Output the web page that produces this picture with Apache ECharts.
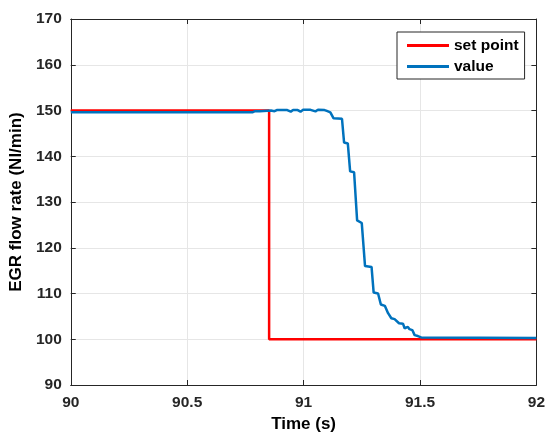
<!DOCTYPE html>
<html>
<head>
<meta charset="utf-8">
<script src="https://cdn.jsdelivr.net/npm/echarts@6/dist/echarts.min.js"></script>
<style>html,body{margin:0;padding:0;background:#fff}#c{width:548px;height:438px}</style>
</head>
<body>
<div id="c"></div>
<script>
// Data
var xTicks = [90, 90.5, 91, 91.5, 92];
var yTicks = [90, 100, 110, 120, 130, 140, 150, 160, 170];

var setTime  = [90, 90.852, 90.852, 92];
var setValue = [150, 150, 100, 100];

var valTime = [90, 90.34, 90.342, 90.346, 90.476, 90.478, 90.482, 90.74, 90.743, 90.748, 90.765, 90.772, 90.78, 90.792, 90.80, 90.812, 90.82,
  90.86, 90.875, 90.885, 90.93, 90.945, 90.955, 90.975, 90.987, 90.998, 91.03, 91.051, 91.062, 91.09, 91.10, 91.115,
  91.129, 91.165, 91.174, 91.190, 91.200, 91.217, 91.230, 91.238, 91.250, 91.264, 91.292, 91.301, 91.320, 91.332, 91.349,
  91.363, 91.377, 91.391, 91.410, 91.427, 91.434, 91.448, 91.455, 91.467, 91.477, 91.491, 91.505, 92];
var valValue = [149.6, 149.6, 149.85, 149.6, 149.6, 149.85, 149.6, 149.6, 149.85, 149.6, 149.6, 149.85, 149.6, 149.85, 149.6, 149.85, 150.0,
  150.0, 149.85, 150.1, 150.1, 149.75, 150.1, 150.1, 149.75, 150.15, 150.15, 149.8, 150.15, 150.1, 149.9, 149.6,
  148.3, 148.2, 143.0, 142.8, 136.7, 136.5, 126.0, 125.6, 125.4, 116.0, 115.8, 110.2, 110.0, 107.6, 107.3,
  105.7, 104.6, 104.4, 103.5, 103.4, 102.4, 102.7, 102.2, 102.0, 100.9, 100.7, 100.4, 100.3];

function pairs(xs, ys) { return xs.map(function (x, i) { return [x, ys[i]]; }); }

var FONT = 'Liberation Sans, Arial, Helvetica, sans-serif';
var INK = '#262626';

var chart = echarts.init(document.getElementById('c'), null, {renderer: 'canvas'});
var common = {
  axisLine: {show: true, lineStyle: {color: INK, width: 1}},
  axisTick: {show: true, inside: true, length: 5, lineStyle: {color: INK}}
};
chart.setOption({
  animation: false,
  backgroundColor: '#fff',
  grid: {left: 68, right: 10, top: 19, bottom: 53, containLabel: false},
  legend: {
    left: 397, top: 32,
    orient: 'vertical',
    padding: [5, 6, 4, 10],
    itemGap: 4,
    itemWidth: 42, itemHeight: 3,
    borderColor: INK, borderWidth: 1, backgroundColor: '#fff',
    textStyle: {fontFamily: FONT, fontWeight: 'bold', fontSize: 15.5, color: '#000', lineHeight: 17},
    data: [{name: 'set point', icon: 'rect'}, {name: 'value', icon: 'rect'}]
  },
  xAxis: [
    Object.assign({
      type: 'value', min: 90, max: 92, interval: 0.5,
      name: 'Time (s)', nameLocation: 'middle', nameGap: 31,
      nameTextStyle: {fontFamily: FONT, fontWeight: 'bold', fontSize: 17, color: '#000'},
      axisLabel: {margin: 10, fontFamily: FONT, fontWeight: 'bold', fontSize: 15.5, color: INK,
        formatter: function (v) { return String(+v.toFixed(1)); }},
      splitLine: {show: true, lineStyle: {color: '#e6e6e6', width: 1}}
    }, common),
    Object.assign({
      type: 'value', min: 90, max: 92, interval: 0.5, position: 'top',
      axisLabel: {show: false}, splitLine: {show: false}
    }, common)
  ],
  yAxis: [
    Object.assign({
      type: 'value', min: 90, max: 170, interval: 10,
      name: 'EGR flow rate (Nl/min)', nameLocation: 'middle', nameGap: 44, nameRotate: 90,
      nameTextStyle: {fontFamily: FONT, fontWeight: 'bold', fontSize: 17, color: '#000'},
      axisLabel: {margin: 9, fontFamily: FONT, fontWeight: 'bold', fontSize: 15.5, color: INK},
      splitLine: {show: true, lineStyle: {color: '#e6e6e6', width: 1}}
    }, common),
    Object.assign({
      type: 'value', min: 90, max: 170, interval: 10, position: 'right',
      axisLabel: {show: false}, splitLine: {show: false}
    }, common)
  ],
  series: [
    {
      name: 'set point', type: 'line', xAxisIndex: 0, yAxisIndex: 0,
      data: pairs(setTime, setValue), showSymbol: false, symbol: 'none',
      lineStyle: {color: '#ff0000', width: 2.5}, itemStyle: {color: '#ff0000'}
    },
    {
      name: 'value', type: 'line', xAxisIndex: 0, yAxisIndex: 0,
      data: pairs(valTime, valValue), showSymbol: false, symbol: 'none',
      lineStyle: {color: '#0072bd', width: 2.5}, itemStyle: {color: '#0072bd'}
    }
  ]
});
</script>
</body>
</html>
